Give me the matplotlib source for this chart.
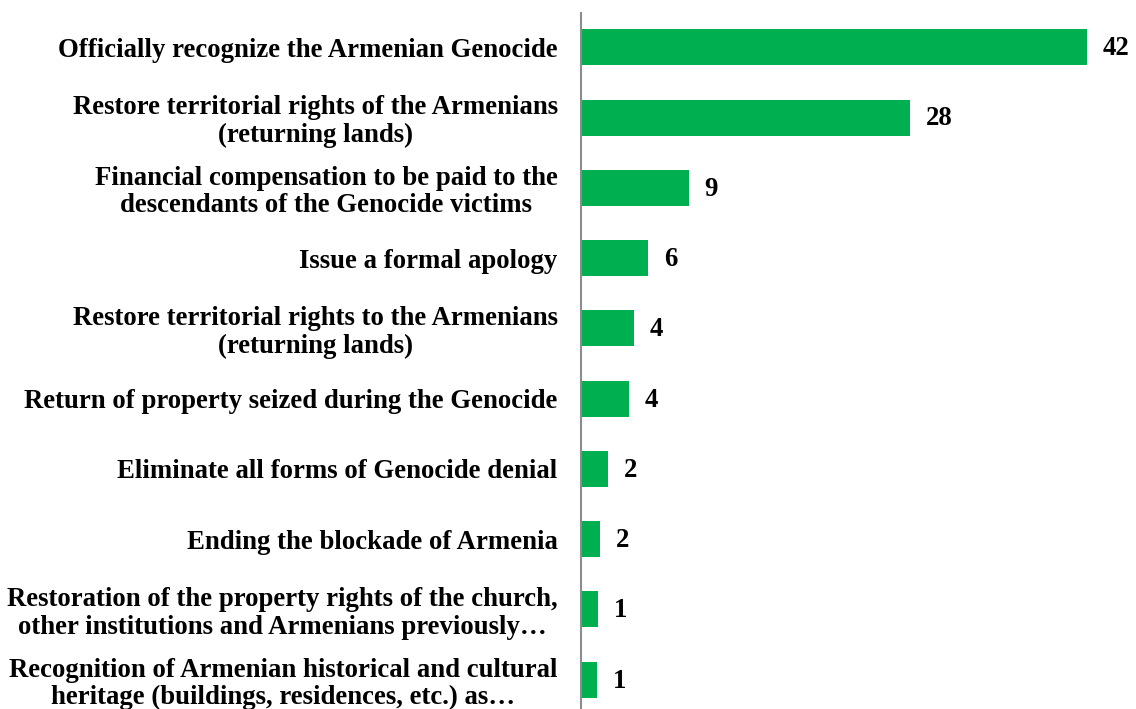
import matplotlib.pyplot as plt

categories = [
    'Officially recognize the Armenian Genocide',
    'Restore territorial rights of the Armenians\n(returning lands)',
    'Financial compensation to be paid to the\ndescendants of the Genocide victims',
    'Issue a formal apology',
    'Restore territorial rights to the Armenians\n(returning lands)',
    'Return of property seized during the Genocide',
    'Eliminate all forms of Genocide denial',
    'Ending the blockade of Armenia',
    'Restoration of the property rights of the church,\nother institutions and Armenians previously\u2026',
    'Recognition of Armenian historical and cultural\nheritage (buildings, residences, etc.) as\u2026',
]
values = [42.4, 27.6, 9.0, 5.6, 4.4, 4.0, 2.2, 1.54, 1.43, 1.34]

plt.rcParams['font.family'] = ['Liberation Serif', 'DejaVu Serif']
plt.rcParams['font.weight'] = 'bold'

fig = plt.figure(figsize=(11.36, 7.09), dpi=100)
ax = fig.add_axes([581.3 / 1136, 0, 1 - 581.3 / 1136, 1 - 13 / 709])

pos = list(range(len(values)))
ax.barh(pos, values, height=0.512, color='#00B050')

# подписи значений справа от столбцов
for p, v in zip(pos, values):
    ax.annotate('%.0f' % v, (v, p), xytext=(11.5, -1), textcoords='offset points',
                va='center', ha='left', fontsize=19.3, fontweight='bold')

ax.set_xlim(0, 46.53)
ax.set_ylim(9.417, -0.488)
ax.set_yticks(pos)
ax.set_yticklabels(categories, fontsize=19.3, fontweight='bold', linespacing=1.12)
for lbl in ax.get_yticklabels():
    lbl.set_multialignment('center')
ax.tick_params(axis='y', length=0, pad=17)
ax.set_xticks([])

for s in ['top', 'right', 'bottom']:
    ax.spines[s].set_visible(False)
ax.spines['left'].set_color('#8c8c8c')
ax.spines['left'].set_linewidth(1.5)

fig.savefig('out.png', dpi=100)
